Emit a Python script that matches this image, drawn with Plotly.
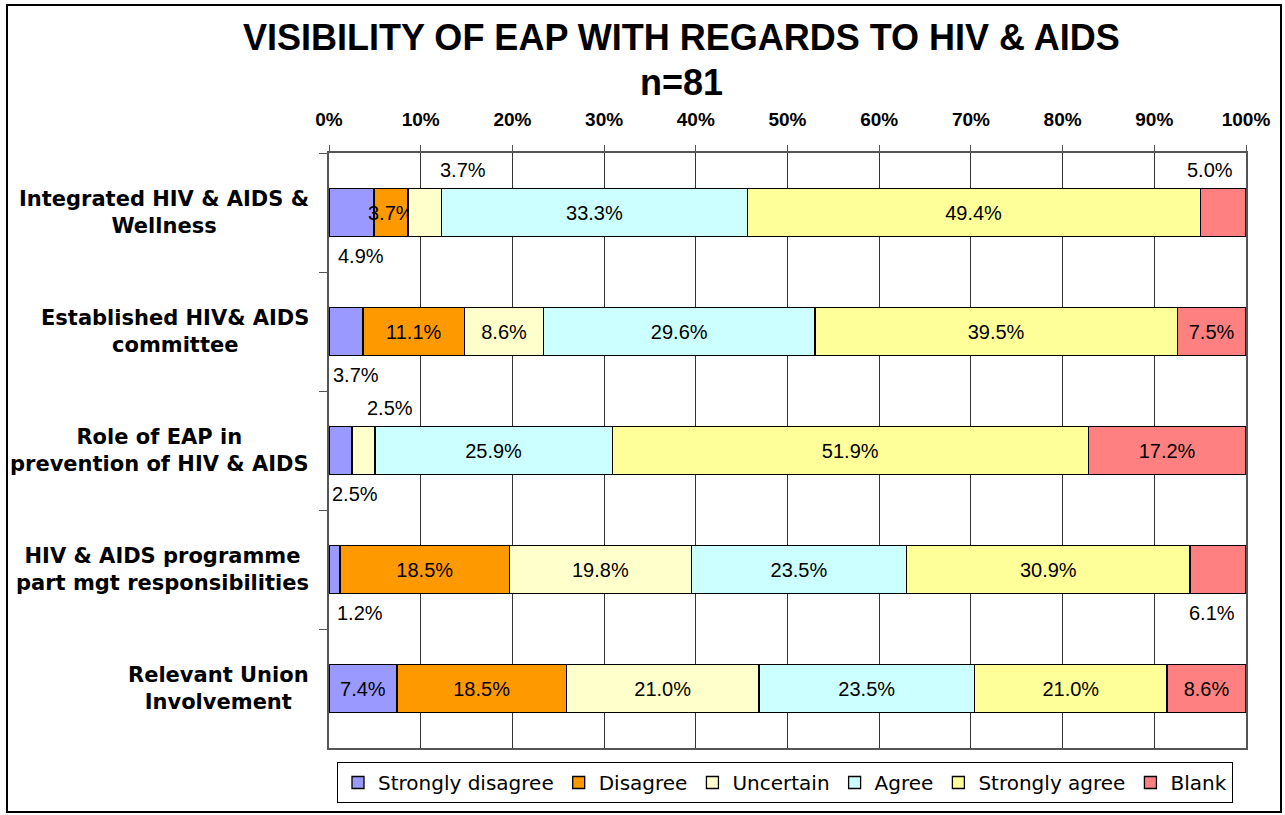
import plotly.graph_objects as go

categories = [
    "Integrated HIV & AIDS &<br>Wellness",
    "Established HIV& AIDS<br>committee",
    "Role of EAP in<br>prevention of HIV & AIDS",
    "HIV & AIDS programme<br>part mgt responsibilities",
    "Relevant Union<br>Involvement",
]
series_names = ["Strongly disagree", "Disagree", "Uncertain", "Agree", "Strongly agree", "Blank"]
strongly_disagree = [4.9, 3.7, 2.5, 1.2, 7.4]
disagree = [3.7, 11.1, 0.0, 18.5, 18.5]
uncertain = [3.7, 8.6, 2.5, 19.8, 21.0]
agree = [33.3, 29.6, 25.9, 23.5, 23.5]
strongly_agree = [49.4, 39.5, 51.9, 30.9, 21.0]
blank = [5.0, 7.5, 17.2, 6.1, 8.6]
x_ticks = [0, 10, 20, 30, 40, 50, 60, 70, 80, 90, 100]
x_tick_labels = [f"{v}%" for v in x_ticks]
title_lines = ["VISIBILITY OF EAP WITH REGARDS TO HIV & AIDS", "n=81"]

series_values = [strongly_disagree, disagree, uncertain, agree, strongly_agree, blank]
colors = ["#9999FF", "#FF9900", "#FFFFCC", "#CCFFFF", "#FFFF99", "#FF8080"]

# labels drawn outside the bar: (row, series index, side, x pixel shift)
outside_labels = [
    (0, 2, "above", 38), (0, 5, "above", -13), (0, 0, "below", 10),
    (1, 0, "below", 10),
    (2, 2, "above", 27), (2, 0, "below", 15),
    (3, 0, "below", 25), (3, 5, "below", -6),
]
outside_set = {(r, s) for r, s, _, _ in outside_labels}

FONT = "Liberation Sans, Arial, sans-serif"
WIDE = "DejaVu Sans, sans-serif"
W, H = 1285, 815
L, R, T, B = 329, 39, 153, 67
PW, PH = W - L - R, H - T - B


def px_x(p):
    return (p - L) / PW


def px_y(p):
    return (H - B - p) / PH


fig = go.Figure()
for si, (name, vals, col) in enumerate(zip(series_names, series_values, colors)):
    texts = []
    for ri, v in enumerate(vals):
        if v == 0 or (ri, si) in outside_set:
            texts.append("")
        else:
            texts.append(f"{v:.1f}%")
    fig.add_trace(go.Bar(
        name=name, y=categories, x=vals, orientation="h",
        marker=dict(color=col, line=dict(color="black", width=1.3)),
        text=texts, textposition="inside", insidetextanchor="middle",
        textangle=0, textfont=dict(family=FONT, size=20, color="black"),
        hoverinfo="skip",
    ))

annotations = []
for r, s, side, dx in outside_labels:
    start = sum(series_values[k][r] for k in range(s))
    v = series_values[s][r]
    annotations.append(dict(
        x=start + v / 2, y=categories[r], xref="x", yref="y",
        text=f"{v:.1f}%", showarrow=False,
        font=dict(family=FONT, size=20, color="black"),
        xshift=dx, yshift=43 if side == "above" else -43,
    ))

for c in categories:
    annotations.append(dict(
        x=px_x(311), y=c, xref="paper", yref="y", xanchor="right",
        text=c, align="center", showarrow=False,
        font=dict(family=WIDE, size=21, color="black", weight="bold"),
    ))

for line, yc in zip(title_lines, [37, 83]):
    annotations.append(dict(
        x=px_x(681), y=px_y(yc), xref="paper", yref="paper",
        xanchor="center", yanchor="middle", text=f"<b>{line}</b>",
        showarrow=False, font=dict(family=FONT, size=36, color="black"),
    ))

shapes = [dict(
    type="rect", xref="paper", yref="paper",
    x0=px_x(7), x1=px_x(1281), y0=px_y(812), y1=px_y(5),
    line=dict(color="black", width=2), fillcolor="rgba(0,0,0,0)", layer="above",
)]

fig.update_layout(
    width=W, height=H,
    margin=dict(l=L, r=R, t=T, b=B, autoexpand=False),
    barmode="stack", bargap=0.6,
    paper_bgcolor="white", plot_bgcolor="white",
    font=dict(family=FONT, color="black"),
    xaxis=dict(
        side="top", range=[0, 100], tickvals=x_ticks, ticktext=x_tick_labels,
        tickfont=dict(family=FONT, size=19, color="black", weight="bold"),
        showgrid=True, gridcolor="#333333", gridwidth=1,
        showline=True, linecolor="#555555", linewidth=1.5, mirror=True,
        ticks="outside", ticklen=6, tickcolor="#555555",
        ticklabelstandoff=12, zeroline=False, fixedrange=True,
    ),
    yaxis=dict(
        type="category", autorange="reversed", showticklabels=False,
        showgrid=False, showline=True, linecolor="#555555", linewidth=1.5, mirror=True,
        ticks="outside", ticklen=8, tickcolor="#555555", tickson="boundaries",
        zeroline=False, fixedrange=True,
    ),
    legend=dict(
        orientation="h", x=px_x(785), xanchor="center",
        y=px_y(762), yanchor="top", bordercolor="black", borderwidth=1,
        font=dict(family=WIDE, size=20, color="black"), traceorder="normal",
        itemclick=False, itemdoubleclick=False,
    ),
    uniformtext=dict(minsize=20, mode="show"),
    annotations=annotations,
    shapes=shapes,
    showlegend=True,
)

fig.write_html(
    "out.html",
    config={"displayModeBar": False},
    post_script="document.body.style.margin='0px';",
)
